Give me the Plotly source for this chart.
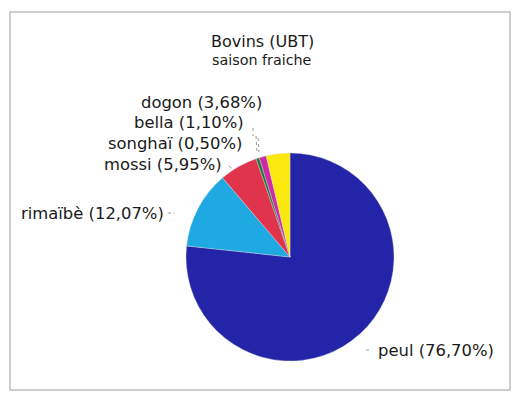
import plotly.graph_objects as go

groups = ["peul", "rimaïbè", "mossi", "songhaï", "bella", "dogon"]
shares = [76.70, 12.07, 5.95, 0.50, 1.10, 3.68]
label_text = ["peul (76,70%)", "rimaïbè (12,07%)", "mossi (5,95%)",
              "songhaï (0,50%)", "bella (1,10%)", "dogon (3,68%)"]
colors = ["#2424a8", "#1fa9e3", "#e0344c", "#1d7a3c", "#cf2aa6", "#fbe80f"]

W, H = 512, 393
def px(x): return x / W
def py(y): return 1 - y / H

fig = go.Figure(go.Pie(
    labels=groups, values=shares, sort=False, direction="clockwise", rotation=0,
    marker=dict(colors=colors, line=dict(color="rgba(220,220,220,0.6)", width=0.6)),
    textinfo="none", hoverinfo="label+percent", showlegend=False,
    domain=dict(x=[px(186), px(394)], y=[py(361), py(153)]),
))

FAM = "DejaVu Sans, Verdana, sans-serif"
font = dict(family=FAM, size=16.4, color="#1a1a1a")
label_pos = {
    "peul": (376, 350, "left"),
    "rimaïbè": (166, 213, "right"),
    "mossi": (224, 165, "right"),
    "songhaï": (244, 144, "right"),
    "bella": (246, 123, "right"),
    "dogon": (264, 102, "right"),
}
for g, t in zip(groups, label_text):
    x, y, a = label_pos[g]
    fig.add_annotation(x=px(x), y=py(y), xref="paper", yref="paper", text=t,
                       showarrow=False, xanchor=a, yanchor="middle", font=font)

fig.add_annotation(x=px(262), y=py(30), xref="paper", yref="paper", text="Bovins (UBT)",
                   showarrow=False, font=dict(family=FAM, size=16, color="#1a1a1a"))
fig.add_annotation(x=px(262), y=py(50), xref="paper", yref="paper", text="saison fraiche",
                   showarrow=False, font=dict(family=FAM, size=14.3, color="#1a1a1a"))

# frame
fig.add_shape(type="rect", xref="paper", yref="paper", x0=px(10), x1=px(510), y0=py(390), y1=py(12),
              line=dict(color="#bdbdbd", width=1.5))
# leader ticks
for (x0, y0, x1, y1) in [(366, 350, 372, 350), (168, 213, 175, 213), (229, 166, 234, 170),
                          (256, 136, 257, 152), (253, 128, 253, 136), (258, 138, 259, 152)]:
    fig.add_shape(type="line", xref="paper", yref="paper", x0=px(x0), x1=px(x1), y0=py(y0), y1=py(y1),
                  line=dict(color="#999", width=1, dash="dot"))

fig.update_layout(width=W, height=H, margin=dict(l=0, r=0, t=0, b=0),
                  paper_bgcolor="white", plot_bgcolor="white")
fig.write_html("out.html")
